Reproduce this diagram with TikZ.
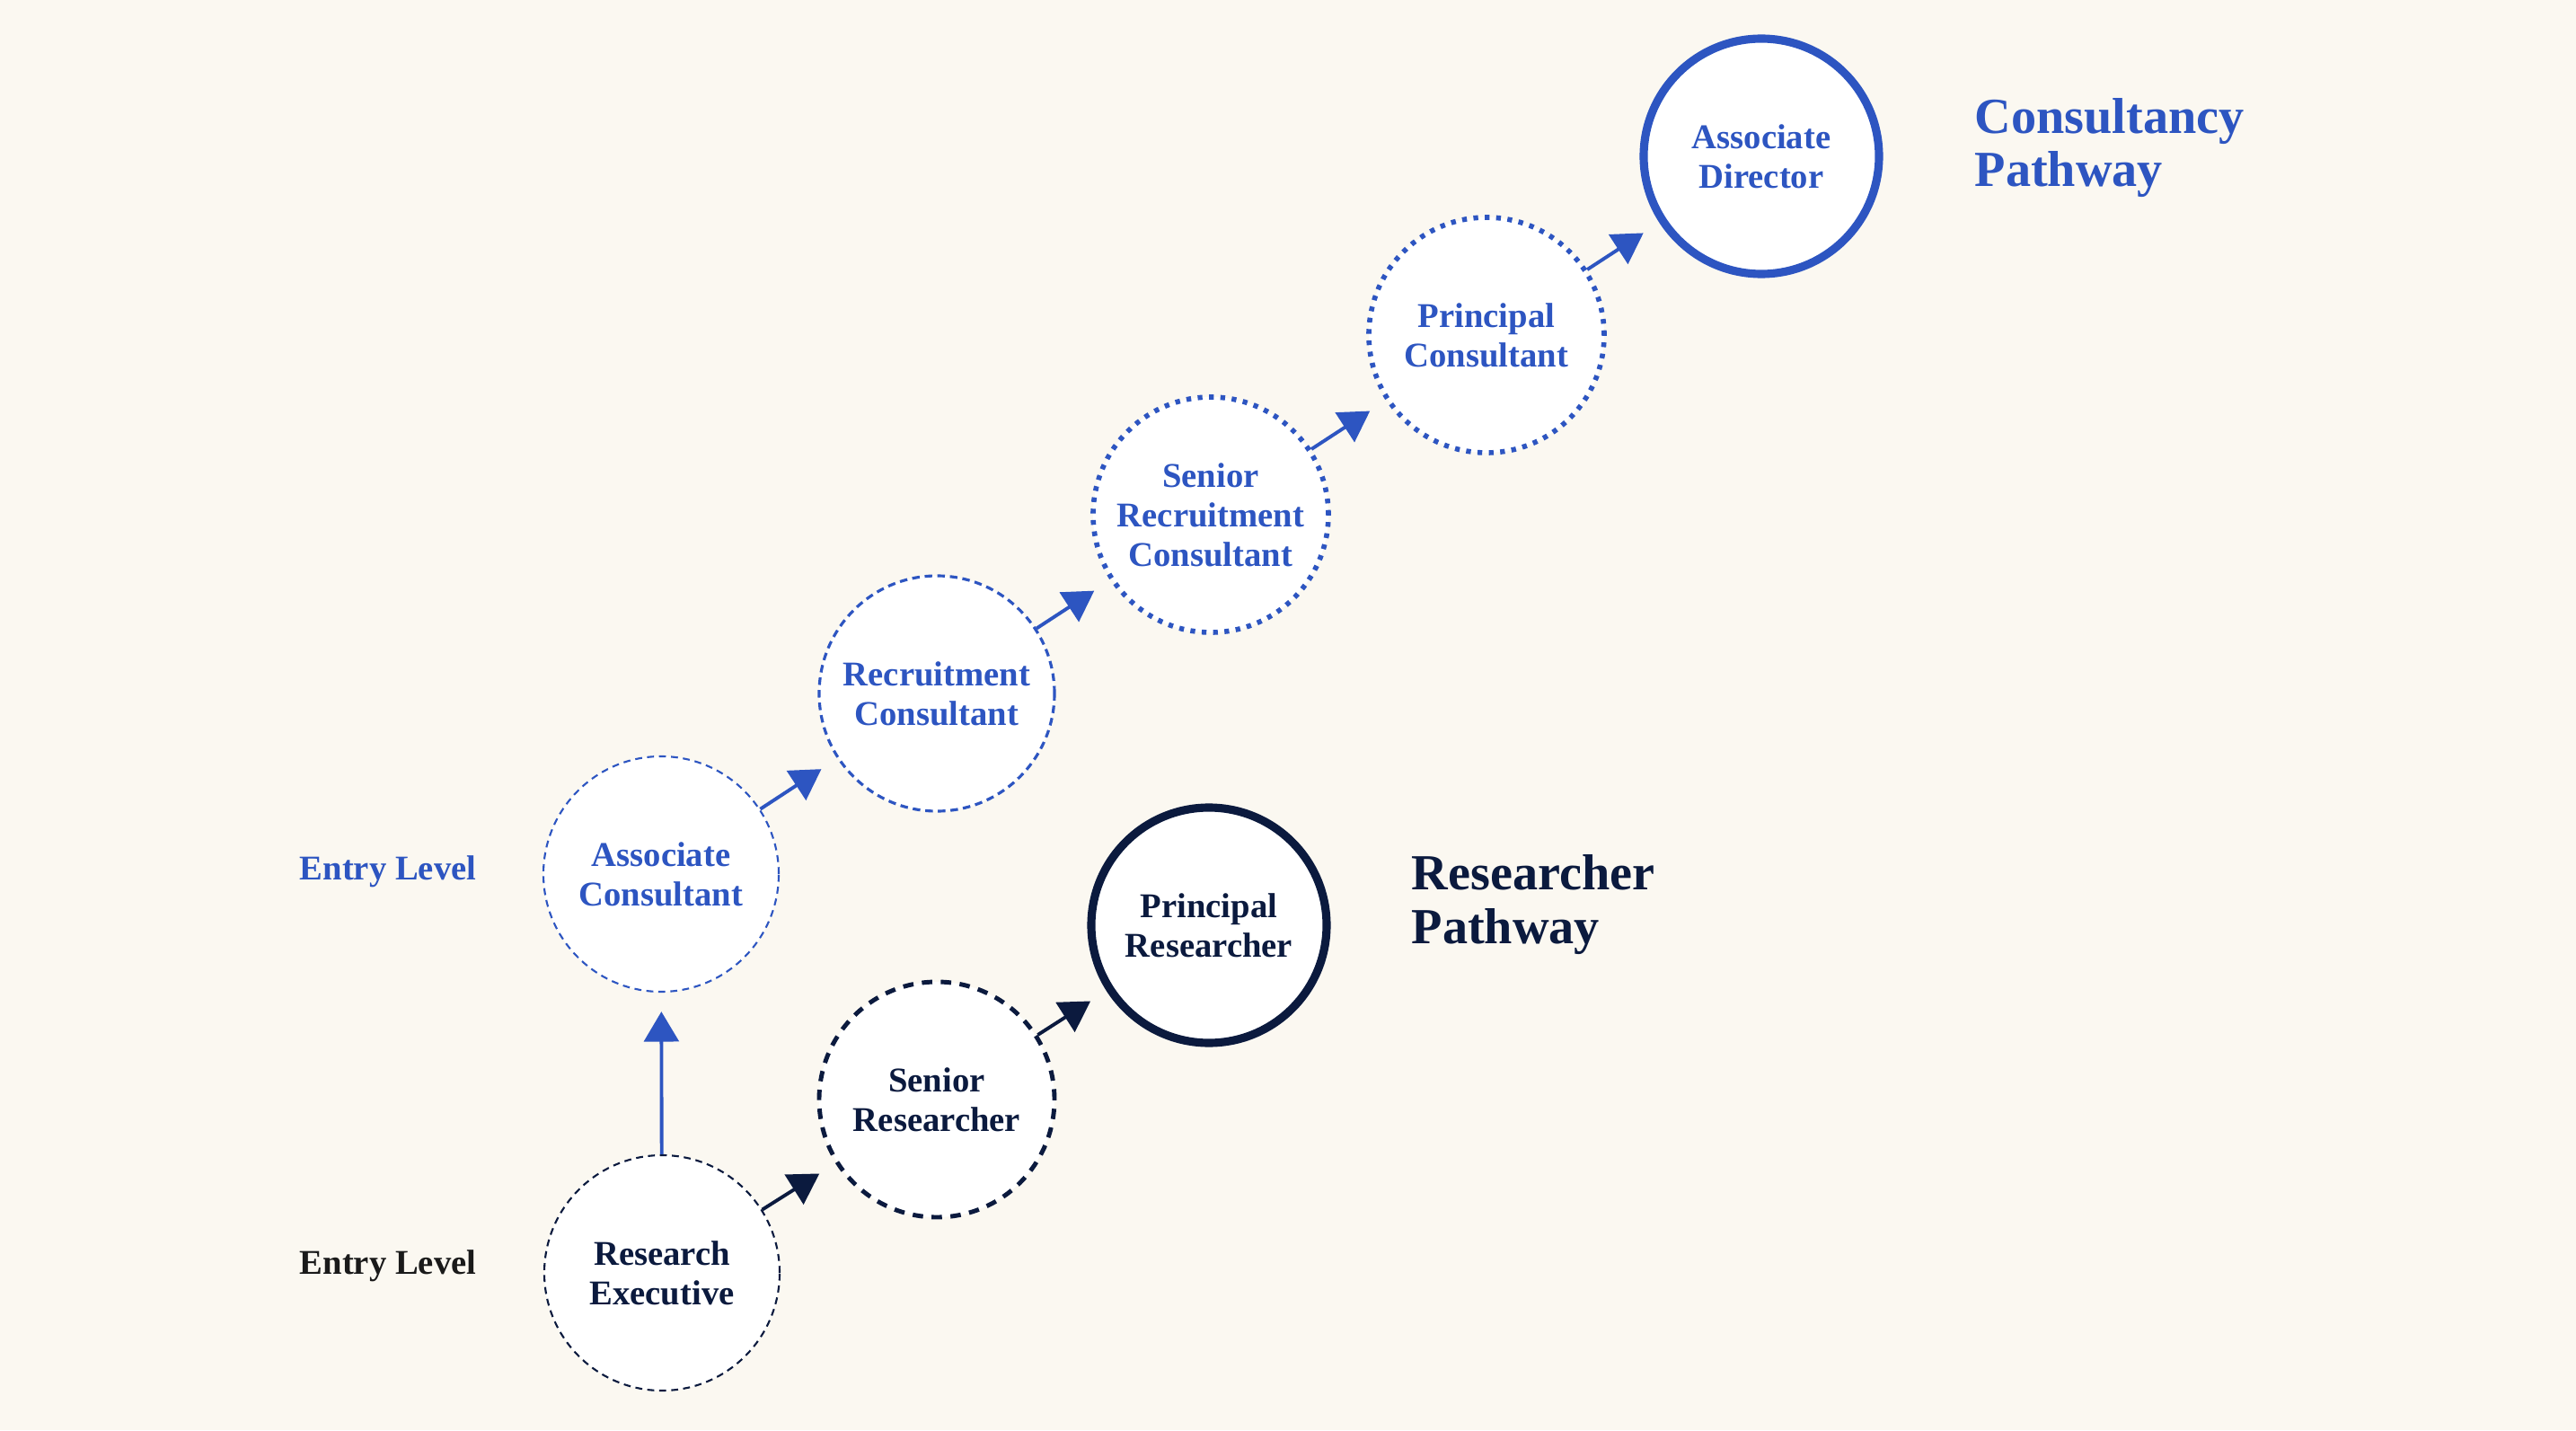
\documentclass[tikz,border=0pt]{standalone}
\usepackage{fontspec}
\setmainfont{Liberation Serif}
\usepackage{xcolor}
\usetikzlibrary{arrows.meta,positioning}

\definecolor{paper}{HTML}{FBF8F1}
\definecolor{consblue}{HTML}{2D55C1}
\definecolor{resnavy}{HTML}{0B1A3E}
\definecolor{inkgrey}{HTML}{1A1A1A}

\begin{document}
\begin{tikzpicture}[
    role/.style={circle, fill=white, minimum size=2.62cm, inner sep=0pt, align=center,
        font=\bfseries\fontsize{11}{12.5}\selectfont},
    bluerole/.style={role, draw=consblue, text=consblue},
    navyrole/.style={role, draw=resnavy, text=resnavy},
    thinring/.style={line width=0.6pt, dash pattern=on 2.2pt off 1.6pt},
    dashring/.style={line width=0.9pt, dash pattern=on 2.4pt off 1.6pt},
    heavydash/.style={line width=1.4pt, dash pattern=on 3.3pt off 2.7pt},
    dotring/.style={line width=1.6pt, dash pattern=on 1.5pt off 2.1pt},
    solidring/.style={line width=2.6pt},
    arr/.style={-{Triangle[length=9.5pt,width=11pt]}, line width=1.1pt, shorten >=6pt},
    entry/.style={font=\bfseries\fontsize{11}{13}\selectfont},
    pathtitle/.style={anchor=base west, align=left, inner sep=0pt,
        font=\bfseries\fontsize{16}{17}\selectfont},
]

\fill[paper] (0,0) rectangle (28.68,15.92);
\useasboundingbox (0,0) rectangle (28.68,15.92);

% researcher pathway
\node[navyrole, thinring] (re) at (7.37,1.75) {Research\\Executive};
\node[navyrole, heavydash] (sr) at (10.43,3.68) {Senior\\Researcher};
\node[navyrole, solidring] (pr) at (13.46,5.62) {Principal\\Researcher};

% consultancy pathway
\node[bluerole, thinring] (ac) at (7.36,6.19) {Associate\\Consultant};
\node[bluerole, dashring] (rc) at (10.43,8.20) {Recruitment\\Consultant};
\node[bluerole, dotring] (src) at (13.48,10.19) {Senior\\Recruitment\\Consultant};
\node[bluerole, dotring] (pc) at (16.55,12.19) {Principal\\Consultant};
\node[bluerole, solidring] (ad) at (19.61,14.18) {Associate\\Director};

\node[entry, text=consblue] (entrycons) at (4.32,6.22) {Entry Level};
\node[entry, text=inkgrey] (entryres) at (4.32,1.83) {Entry Level};

\node[pathtitle, text=consblue] (constitle) at (21.98,13.84) {Consultancy\\Pathway};
\node[pathtitle, text=resnavy] (restitle) at (15.71,5.42) {Researcher\\Pathway};

\draw[arr, resnavy] (re) -- (sr);
\draw[arr, resnavy] (sr) -- (pr);
\draw[arr, consblue] (re) -- (ac);
\draw[arr, consblue] (ac) -- (rc);
\draw[arr, consblue] (rc) -- (src);
\draw[arr, consblue] (src) -- (pc);
\draw[arr, consblue] (pc) -- (ad);

\end{tikzpicture}
\end{document}
